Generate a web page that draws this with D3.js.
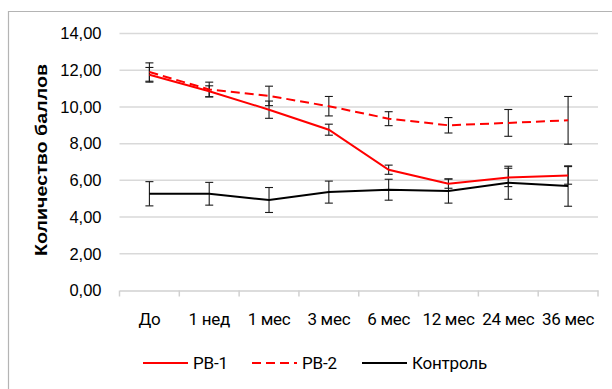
<!DOCTYPE html>
<html>
<head>
<meta charset="utf-8">
<script src="https://cdn.jsdelivr.net/npm/d3@7"></script>
<style>
  body { margin: 0; background: #fff; }
  svg { display: block; }
</style>
</head>
<body>
<svg id="chart" width="612" height="389"></svg>
<script>
// categories and values
var categories = ['До', '1 нед', '1 мес', '3 мес', '6 мес', '12 мес', '24 мес', '36 мес'];
var yTicks = [0, 2, 4, 6, 8, 10, 12, 14];

var rb1 = [11.75, 10.85, 9.85, 8.76, 6.58, 5.82, 6.16, 6.27];
var rb1Err = [0.4, 0.3, 0.47, 0.3, 0.25, 0.25, 0.5, 0.48];

var rb2 = [11.9, 10.95, 10.6, 10.04, 9.36, 9.0, 9.13, 9.27];
var rb2Err = [0.5, 0.4, 0.53, 0.53, 0.38, 0.42, 0.73, 1.3];

var control = [5.27, 5.27, 4.93, 5.36, 5.49, 5.42, 5.87, 5.69];
var controlErr = [0.66, 0.62, 0.68, 0.6, 0.57, 0.66, 0.9, 1.1];

var series = [
  { name: 'РВ-1', values: rb1, err: rb1Err, color: '#ff0000', dash: null },
  { name: 'РВ-2', values: rb2, err: rb2Err, color: '#ff0000', dash: '9,5' },
  { name: 'Контроль', values: control, err: controlErr, color: '#000000', dash: null }
];

var svg = d3.select('#chart');

// outer frame (only top and left edges are visible)
svg.append('line').attr('x1', 8).attr('x2', 612).attr('y1', 11.5).attr('y2', 11.5)
  .attr('stroke', '#b4b4b4').attr('stroke-width', 1.2);
svg.append('line').attr('x1', 8.5).attr('x2', 8.5).attr('y1', 11).attr('y2', 389)
  .attr('stroke', '#b4b4b4').attr('stroke-width', 1.2);

var x = d3.scaleBand().domain(categories).range([119.5, 598]);
var y = d3.scaleLinear().domain([0, 14]).range([290.5, 33.5]);

// gridlines
svg.append('g').selectAll('line').data(yTicks.filter(function(d) { return d > 0; }))
  .enter().append('line')
  .attr('x1', 119.5).attr('x2', 598)
  .attr('y1', function(d) { return y(d); }).attr('y2', function(d) { return y(d); })
  .attr('stroke', '#d9d9d9').attr('stroke-width', 1.5);

// y axis labels
var yAxis = d3.axisLeft(y).tickValues(yTicks).tickSize(0).tickPadding(18)
  .tickFormat(function(d) { return d3.format('.2f')(d).replace('.', ','); });
var gy = svg.append('g').attr('transform', 'translate(119.5,0)').call(yAxis);
gy.select('.domain').remove();
gy.selectAll('text').attr('font-family', 'Liberation Sans, Arial, sans-serif')
  .attr('font-size', 16.5).attr('fill', '#000');

// x axis
var xAxis = d3.axisBottom(x).tickSize(0).tickPadding(22);
var gx = svg.append('g').attr('transform', 'translate(0,' + y(0) + ')').call(xAxis);
gx.select('.domain').attr('stroke', '#d0d0d0').attr('stroke-width', 1.5);
gx.selectAll('text').attr('font-family', 'Roboto, sans-serif')
  .attr('font-size', 17).attr('fill', '#000').attr('letter-spacing', -0.3);
// tick marks between categories
var bounds = categories.map(function(c) { return x(c); }).concat([x.range()[1]]);
svg.append('g').selectAll('line').data(bounds).enter().append('line')
  .attr('x1', function(d) { return d; }).attr('x2', function(d) { return d; })
  .attr('y1', y(0)).attr('y2', y(0) + 6)
  .attr('stroke', '#d0d0d0').attr('stroke-width', 1.5);

// y axis title
svg.append('text')
  .attr('transform', 'translate(47,160) rotate(-90)')
  .attr('text-anchor', 'middle')
  .attr('font-family', 'Liberation Sans, Arial, sans-serif')
  .attr('font-weight', 'bold').attr('font-size', 16.5)
  .attr('textLength', 192).attr('lengthAdjust', 'spacingAndGlyphs')
  .text('Количество баллов');

function cx(i) { return x(categories[i]) + x.bandwidth() / 2; }

// error bars
series.forEach(function(s) {
  var g = svg.append('g').attr('stroke', '#1a1a1a').attr('stroke-width', 1.1);
  s.values.forEach(function(v, i) {
    var top = y(v + s.err[i]), bot = y(v - s.err[i]), c = cx(i);
    g.append('line').attr('x1', c).attr('x2', c).attr('y1', top).attr('y2', bot);
    g.append('line').attr('x1', c - 4).attr('x2', c + 4).attr('y1', top).attr('y2', top);
    g.append('line').attr('x1', c - 4).attr('x2', c + 4).attr('y1', bot).attr('y2', bot);
  });
});

// lines
var line = d3.line().x(function(d, i) { return cx(i); }).y(function(d) { return y(d); });
series.forEach(function(s) {
  svg.append('path').datum(s.values)
    .attr('d', line)
    .attr('fill', 'none')
    .attr('stroke', s.color)
    .attr('stroke-width', 2)
    .attr('stroke-dasharray', s.dash);
});

// legend
var legendX = [143, 252, 362];
var legend = svg.append('g');
series.forEach(function(s, i) {
  var g = legend.append('g').attr('transform', 'translate(' + legendX[i] + ',363)');
  g.append('line').attr('x1', 0).attr('x2', 45).attr('y1', 0).attr('y2', 0)
    .attr('stroke', s.color).attr('stroke-width', 2).attr('stroke-dasharray', s.dash);
  g.append('text').attr('x', 50).attr('y', 6)
    .attr('font-family', 'Roboto, sans-serif').attr('font-size', 17)
    .attr('letter-spacing', -0.2)
    .text(s.name);
});
</script>
</body>
</html>
